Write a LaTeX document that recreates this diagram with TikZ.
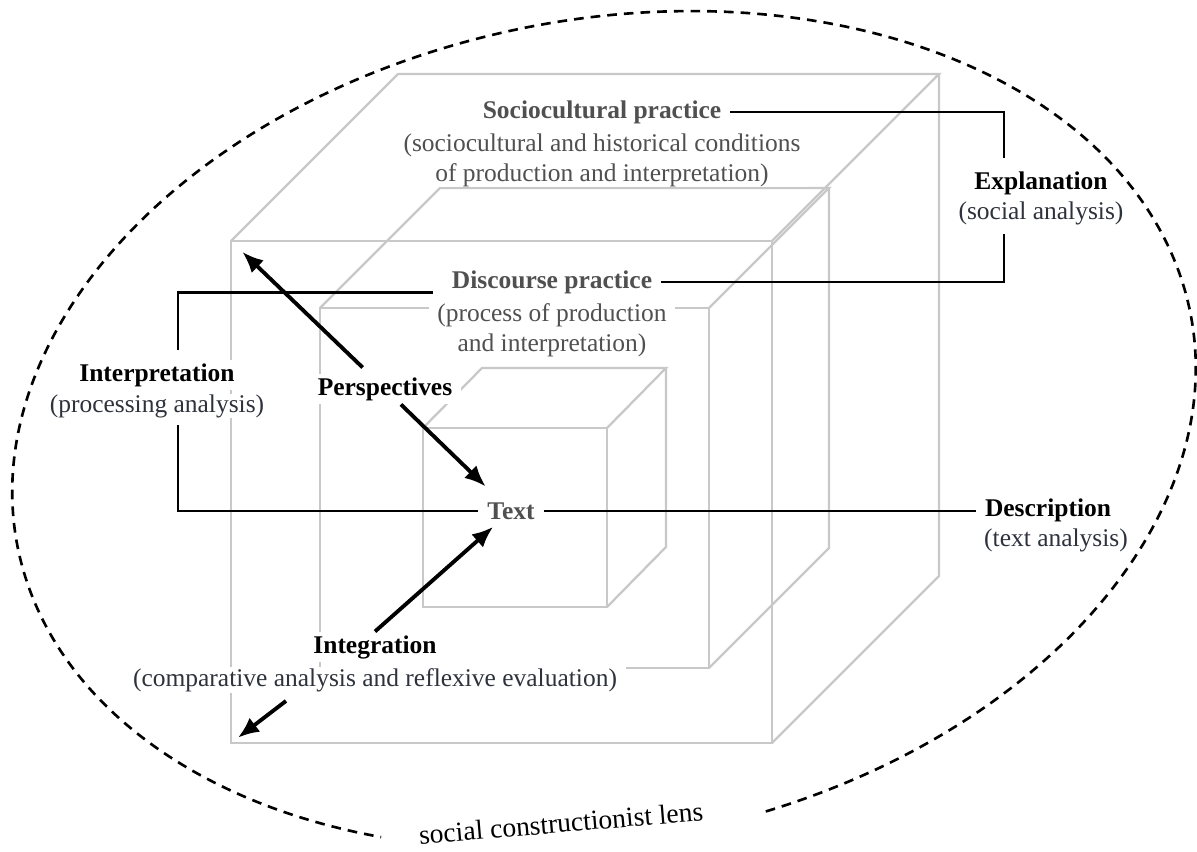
\documentclass[tikz,border=0pt]{standalone}
\usepackage{fontspec}
\setmainfont{Liberation Serif}
\usetikzlibrary{arrows.meta,calc}
\definecolor{cubegray}{RGB}{200,200,200}
\definecolor{boxtext}{RGB}{80,80,80}
\definecolor{sidetext}{RGB}{45,50,60}

\begin{document}
\begin{tikzpicture}[x=0.02cm, y=-0.02cm,
  cubeline/.style={draw=cubegray, line width=1.3pt},
  title/.style={fill=white, font=\fontsize{14.5}{17}\selectfont\bfseries, inner xsep=5pt, inner ysep=2pt},
  sub/.style={fill=white, font=\fontsize{14.5}{17}\selectfont, align=center, inner xsep=5pt, inner ysep=0.5pt},
  link/.style={line width=1.6pt},
  arr/.style={line width=2.2pt, -{Latex[length=12pt, width=10pt]}},
  lens/.style={line width=1.5pt, dash pattern=on 5.5pt off 4pt}]
\useasboundingbox (0,0) rectangle (1197,852);

% Outer cube: sociocultural practice
\draw[cubeline] (231,241) rectangle (772,743);
\draw[cubeline] (231,241) -- (398,74) -- (939,74) -- (772,241);
\draw[cubeline] (939,74) -- (939,576) -- (772,743);
\coordinate (o1) at (231,241);
\coordinate (o2) at (231,743);

% Middle cube: discourse practice
\draw[cubeline] (320,308) rectangle (709,668);
\draw[cubeline] (320,308) -- (440,188) -- (829,188) -- (709,308);
\draw[cubeline] (829,188) -- (829,548) -- (709,668);

% Inner cube: text
\draw[cubeline] (423,428) rectangle (607,607);
\draw[cubeline] (423,428) -- (482,368) -- (666,368) -- (607,428);
\draw[cubeline] (666,368) -- (666,547) -- (607,607);

% Cube labels
\node[title, text=boxtext] (soc) at (602,112) {Sociocultural practice};
\node[sub, text=boxtext] (socsub) at (602,160) {(sociocultural and historical conditions\\of production and interpretation)};
\node[title, text=boxtext] (disc) at (552,282) {Discourse practice};
\node[sub, text=boxtext] (discsub) at (552,330) {(process of production\\and interpretation)};
\node[title, text=boxtext] (txt) at (511,511) {Text};

% Analysis labels
\node[title] (expl) at (1041,183) {Explanation};
\node[sub, text=sidetext] (explsub) at (1041,213) {(social analysis)};
\node[title] (interp) at (157,375) {Interpretation};
\node[sub, text=sidetext] (interpsub) at (157,406) {(processing analysis)};
\node[title] (desc) at (1048,510) {Description};
\node[sub, text=sidetext] (descsub) at (1056,540) {(text analysis)};
\node[title] (persp) at (385,389) {Perspectives};
\node[title] (integ) at (375,647) {Integration};
\node[sub, text=sidetext] (integsub) at (375,680) {(comparative analysis and reflexive evaluation)};

% Connectors
\draw[link] (soc.east) -| ($(expl.north)+(-37,-10)$);
\draw[link] ($(explsub.south)+(-37,8)$) |- (disc.east);
\draw[link] ($(disc.base west)+(-10,4)$) -| ($(interp.north)+(21,-10)$);
\draw[link] ($(interpsub.south)+(21,6)$) |- (txt.west);
\draw[link] (txt.east) -- (txt.east -| desc.west);

% Arrows
\draw[arr, shorten <=5pt, shorten >=9pt] (persp) -- (o1);
\draw[arr, shorten >=10pt] (persp) -- (txt);
\draw[arr, shorten >=3pt] (integ.north) -- (txt);
\draw[arr, shorten >=5pt] ($(integsub.south)+(-89,8)$) -- (o2);

% Lens
\begin{scope}[shift={(604,430)}, x=1cm, y=1cm, rotate=11.4]
\draw[lens] (-82:11.96 and 8.2) arc[start angle=-82, end angle=240, x radius=11.96, y radius=8.2];
\end{scope}
\node[font=\fontsize{15.7}{19}\selectfont, rotate=4.8] (lenslabel) at (561,823) {social constructionist lens};
\end{tikzpicture}
\end{document}
